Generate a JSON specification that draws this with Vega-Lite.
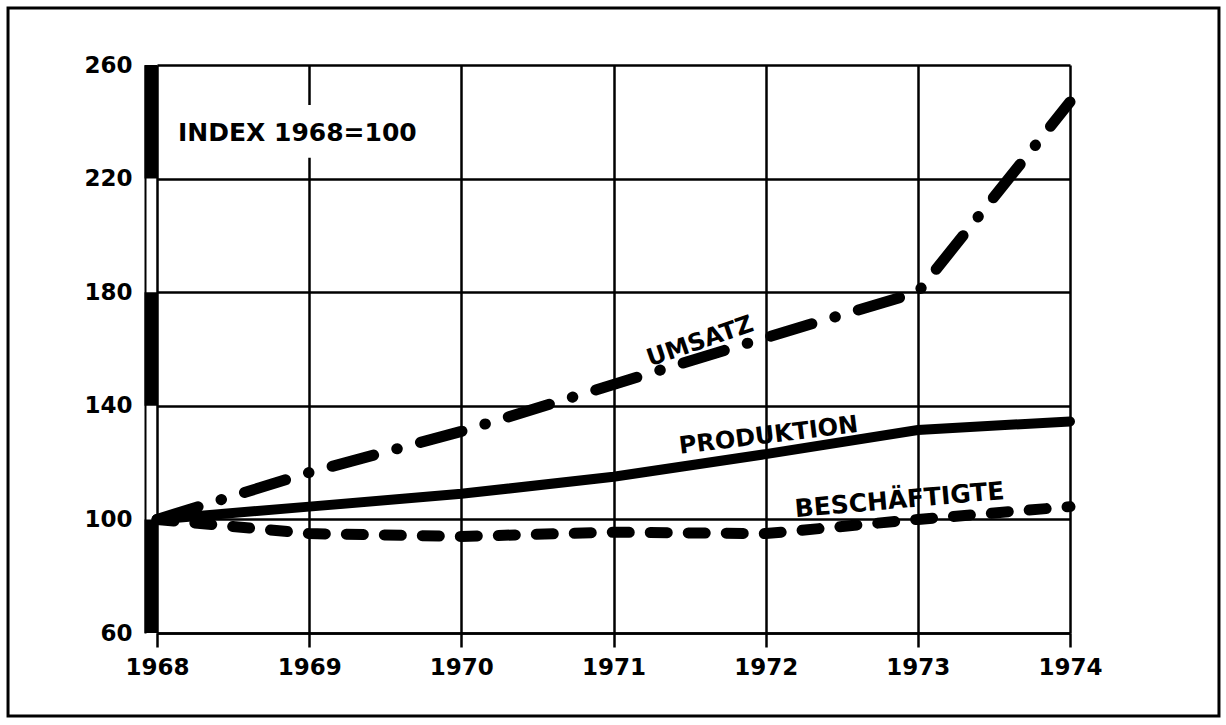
{
  "$schema": "https://vega.github.io/schema/vega-lite/v6.json",
  "autosize": {"type": "none"},
  "padding": {"left": 157, "top": 65, "right": 156, "bottom": 92},
  "width": 913,
  "height": 568,
  "background": "white",
  "config": {
    "view": {"stroke": null},
    "font": "DejaVu Sans",
    "axis": {
      "gridColor": "black",
      "gridWidth": 2.5,
      "gridOpacity": 1,
      "labelColor": "black",
      "labelFont": "DejaVu Sans",
      "labelFontWeight": "bold",
      "labelFontSize": 23,
      "labelFlush": false,
      "title": null
    }
  },
  "datasets": {
    "reihen": [
      {"jahr": 1968, "wert": 100, "reihe": "UMSATZ"},
      {"jahr": 1969, "wert": 116.5, "reihe": "UMSATZ"},
      {"jahr": 1970, "wert": 131, "reihe": "UMSATZ"},
      {"jahr": 1971, "wert": 147.5, "reihe": "UMSATZ"},
      {"jahr": 1972, "wert": 164, "reihe": "UMSATZ"},
      {"jahr": 1973, "wert": 180, "reihe": "UMSATZ"},
      {"jahr": 1974, "wert": 247, "reihe": "UMSATZ"},
      {"jahr": 1968, "wert": 100, "reihe": "PRODUKTION"},
      {"jahr": 1969, "wert": 104.5, "reihe": "PRODUKTION"},
      {"jahr": 1970, "wert": 109, "reihe": "PRODUKTION"},
      {"jahr": 1971, "wert": 115, "reihe": "PRODUKTION"},
      {"jahr": 1972, "wert": 123, "reihe": "PRODUKTION"},
      {"jahr": 1973, "wert": 131.5, "reihe": "PRODUKTION"},
      {"jahr": 1974, "wert": 134.5, "reihe": "PRODUKTION"},
      {"jahr": 1968, "wert": 100, "reihe": "BESCHÄFTIGTE"},
      {"jahr": 1969, "wert": 95, "reihe": "BESCHÄFTIGTE"},
      {"jahr": 1970, "wert": 94, "reihe": "BESCHÄFTIGTE"},
      {"jahr": 1971, "wert": 95.5, "reihe": "BESCHÄFTIGTE"},
      {"jahr": 1972, "wert": 95, "reihe": "BESCHÄFTIGTE"},
      {"jahr": 1973, "wert": 100, "reihe": "BESCHÄFTIGTE"},
      {"jahr": 1974, "wert": 104.5, "reihe": "BESCHÄFTIGTE"}
    ],
    "skala": [
      {"von": 220, "bis": 260},
      {"von": 140, "bis": 180},
      {"von": 60, "bis": 100}
    ]
  },
  "layer": [
    {
      "data": {"name": "skala"},
      "mark": {"type": "rule", "color": "black", "strokeWidth": 13, "xOffset": -6, "strokeCap": "butt"},
      "encoding": {
        "x": {
          "datum": 1968,
          "type": "quantitative",
          "scale": {"domain": [1968, 1974], "nice": false, "zero": false},
          "axis": {
            "values": [1968, 1969, 1970, 1971, 1972, 1973, 1974],
            "format": "d",
            "grid": true,
            "domain": true,
            "domainColor": "black",
            "domainWidth": 2.5,
            "ticks": true,
            "tickColor": "black",
            "tickWidth": 2.5,
            "tickSize": 14,
            "labelPadding": 9,
            "labelAngle": 0,
            "labelFlush": false,
            "title": null
          }
        },
        "y": {
          "field": "von",
          "type": "quantitative",
          "scale": {"domain": [60, 260], "nice": false, "zero": false},
          "axis": {
            "values": [60, 100, 140, 180, 220, 260],
            "grid": true,
            "domain": true,
            "domainColor": "black",
            "domainWidth": 2,
            "offset": 12,
            "ticks": false,
            "tickSize": 0,
            "labelPadding": 13,
            "labelFlush": false,
            "title": null
          }
        },
        "y2": {"field": "bis"}
      }
    },
    {
      "data": {"values": [{}]},
      "mark": {"type": "rect", "fill": "white", "stroke": null},
      "encoding": {
        "x": {"datum": 1968.1, "type": "quantitative"},
        "x2": {"datum": 1969.85},
        "y": {"datum": 227.3, "type": "quantitative"},
        "y2": {"datum": 245.9}
      }
    },
    {
      "data": {"values": [{}]},
      "mark": {"type": "rect", "fill": "white", "fillOpacity": 0, "stroke": "black", "strokeWidth": 3, "clip": false},
      "encoding": {
        "x": {"datum": 1967.021, "type": "quantitative"},
        "x2": {"datum": 1974.979},
        "y": {"datum": 280.07, "type": "quantitative"},
        "y2": {"datum": 30.77}
      }
    },
    {
      "data": {"name": "reihen"},
      "transform": [{"filter": "datum.reihe === 'BESCHÄFTIGTE'"}],
      "mark": {"type": "line", "color": "black", "strokeWidth": 11, "strokeCap": "round", "strokeDash": [17, 21]},
      "encoding": {
        "x": {"field": "jahr", "type": "quantitative"},
        "y": {"field": "wert", "type": "quantitative"}
      }
    },
    {
      "data": {"name": "reihen"},
      "transform": [{"filter": "datum.reihe === 'PRODUKTION'"}],
      "mark": {"type": "line", "color": "black", "strokeWidth": 10, "strokeCap": "round"},
      "encoding": {
        "x": {"field": "jahr", "type": "quantitative"},
        "y": {"field": "wert", "type": "quantitative"}
      }
    },
    {
      "data": {"name": "reihen"},
      "transform": [{"filter": "datum.reihe === 'UMSATZ'"}],
      "mark": {"type": "line", "color": "black", "strokeWidth": 11, "strokeCap": "round", "strokeDash": [43, 24, 0.5, 24]},
      "encoding": {
        "x": {"field": "jahr", "type": "quantitative"},
        "y": {"field": "wert", "type": "quantitative"}
      }
    },
    {
      "data": {"values": [{}]},
      "mark": {"type": "text", "text": "INDEX  1968=100", "font": "DejaVu Sans", "fontWeight": "bold", "fontSize": 25, "align": "left", "baseline": "middle", "color": "black"},
      "encoding": {
        "x": {"datum": 1968.138, "type": "quantitative"},
        "y": {"datum": 236, "type": "quantitative"}
      }
    },
    {
      "data": {"values": [{}]},
      "mark": {"type": "text", "text": "UMSATZ", "font": "DejaVu Sans", "fontWeight": "bold", "fontSize": 24, "align": "center", "baseline": "middle", "angle": 341, "color": "black"},
      "encoding": {
        "x": {"datum": 1971.57, "type": "quantitative"},
        "y": {"datum": 162.5, "type": "quantitative"}
      }
    },
    {
      "data": {"values": [{}]},
      "mark": {"type": "text", "text": "PRODUKTION", "font": "DejaVu Sans", "fontWeight": "bold", "fontSize": 24, "align": "center", "baseline": "middle", "angle": 353, "color": "black"},
      "encoding": {
        "x": {"datum": 1972.02, "type": "quantitative"},
        "y": {"datum": 129.4, "type": "quantitative"}
      }
    },
    {
      "data": {"values": [{}]},
      "mark": {"type": "text", "text": "BESCHÄFTIGTE", "font": "DejaVu Sans", "fontWeight": "bold", "fontSize": 25, "align": "center", "baseline": "middle", "angle": 355, "color": "black"},
      "encoding": {
        "x": {"datum": 1972.88, "type": "quantitative"},
        "y": {"datum": 106.8, "type": "quantitative"}
      }
    }
  ]
}
